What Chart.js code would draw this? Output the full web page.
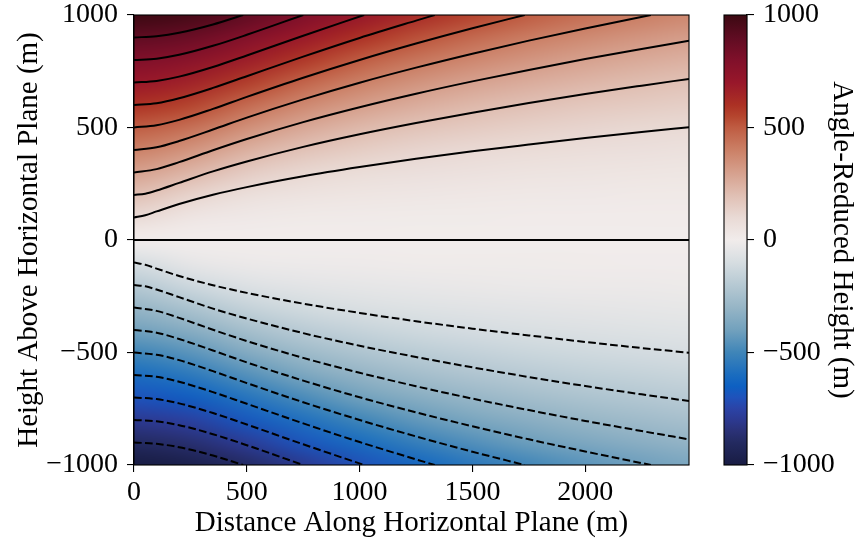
<!DOCTYPE html>
<html>
<head>
<meta charset="utf-8">
<script src="https://cdn.jsdelivr.net/npm/chart.js@4.4.0/dist/chart.umd.min.js"></script>
<style>
  html, body { margin: 0; padding: 0; background: #fff; }
  #wrap { position: relative; width: 859px; height: 542px; }
  #wrap canvas { position: absolute; left: 0; top: 0; }
</style>
</head>
<body>
<div id="wrap">
  <canvas id="main" width="859" height="542"></canvas>
  <canvas id="cbar" width="859" height="542"></canvas>
</div>
<script>
// axis extents and ticks
const xMax = 2460;
const xTicks = [0, 500, 1000, 1500, 2000];
const yTicks = [-1000, -500, 0, 500, 1000];

// shading grid (rows top to bottom)
const gridX = [0, 250, 500, 750, 1000, 1250, 1500, 1750, 2000, 2250, 2500];
const gridY = [1000, 900, 800, 700, 600, 500, 400, 300, 200, 100, 0,
  -100, -200, -300, -400, -500, -600, -700, -800, -900, -1000];
const heatGrid = [
  [1000, 970, 894, 800, 707, 625, 555, 496, 447, 406, 371],
  [900, 867, 787, 691, 602, 526, 463, 412, 369, 334, 305],
  [800, 764, 678, 584, 500, 431, 377, 333, 297, 268, 244],
  [700, 659, 570, 478, 401, 342, 296, 260, 231, 208, 189],
  [600, 554, 461, 375, 309, 260, 223, 195, 172, 155, 140],
  [500, 447, 354, 277, 224, 186, 158, 137, 121, 109, 98],
  [400, 339, 250, 188, 149, 122, 103, 89, 78, 70, 63],
  [300, 231, 154, 111, 86, 70, 59, 51, 45, 40, 36],
  [200, 125, 74, 52, 39, 32, 26, 23, 20, 18, 16],
  [100, 37, 20, 13, 10, 8, 7, 6, 5, 4, 4],
  [0, 0, 0, 0, 0, 0, 0, 0, 0, 0, 0],
  [-100, -37, -20, -13, -10, -8, -7, -6, -5, -4, -4],
  [-200, -125, -74, -52, -39, -32, -26, -23, -20, -18, -16],
  [-300, -231, -154, -111, -86, -70, -59, -51, -45, -40, -36],
  [-400, -339, -250, -188, -149, -122, -103, -89, -78, -70, -63],
  [-500, -447, -354, -277, -224, -186, -158, -137, -121, -109, -98],
  [-600, -554, -461, -375, -309, -260, -223, -195, -172, -155, -140],
  [-700, -659, -570, -478, -401, -342, -296, -260, -231, -208, -189],
  [-800, -764, -678, -584, -500, -431, -377, -333, -297, -268, -244],
  [-900, -867, -787, -691, -602, -526, -463, -412, -369, -334, -305],
  [-1000, -970, -894, -800, -707, -625, -555, -496, -447, -406, -371],
];

// contour lines [x, y]
const c900 = [[0, 900], [100, 906], [200, 921], [350, 958], [484, 1000]];
const c800 = [[0, 800], [100, 806], [200, 823], [350, 863], [500, 912], [750, 1000]];
const c700 = [[0, 700], [100, 707], [200, 726], [350, 769], [500, 820], [750, 908], [1020, 1000]];
const c600 = [[0, 600], [100, 608], [200, 630], [350, 676], [500, 728], [750, 815], [1000, 898], [1250, 975], [1333, 1000]];
const c500 = [[0, 500], [100, 510], [200, 534], [350, 583], [500, 636], [750, 721], [1000, 800], [1250, 873], [1500, 941], [1732, 1000]];
const c400 = [[0, 400], [100, 412], [200, 440], [350, 491], [500, 544], [750, 625], [1000, 699], [1250, 766], [1500, 828], [1750, 886], [2000, 940], [2291, 1000]];
const c300 = [[0, 300], [100, 315], [200, 346], [350, 399], [500, 449], [750, 524], [1000, 590], [1250, 650], [1500, 705], [1750, 756], [2000, 804], [2250, 849], [2460, 886]];
const c200 = [[0, 200], [50, 206], [100, 220], [200, 254], [350, 305], [500, 349], [750, 414], [1000, 470], [1250, 520], [1500, 566], [1750, 609], [2000, 649], [2250, 686], [2460, 716]];
const c100 = [[0, 100], [50, 110], [100, 127], [200, 160], [350, 201], [500, 235], [750, 283], [1000, 324], [1250, 361], [1500, 394], [1750, 424], [2000, 453], [2250, 480], [2460, 501]];
const c0 = [[0, 0], [2460, 0]];
const cm100 = [[0, -100], [50, -110], [100, -127], [200, -160], [350, -201], [500, -235], [750, -283], [1000, -324], [1250, -361], [1500, -394], [1750, -424], [2000, -453], [2250, -480], [2460, -501]];
const cm200 = [[0, -200], [50, -206], [100, -220], [200, -254], [350, -305], [500, -349], [750, -414], [1000, -470], [1250, -520], [1500, -566], [1750, -609], [2000, -649], [2250, -686], [2460, -716]];
const cm300 = [[0, -300], [100, -315], [200, -346], [350, -399], [500, -449], [750, -524], [1000, -590], [1250, -650], [1500, -705], [1750, -756], [2000, -804], [2250, -849], [2460, -886]];
const cm400 = [[0, -400], [100, -412], [200, -440], [350, -491], [500, -544], [750, -625], [1000, -699], [1250, -766], [1500, -828], [1750, -886], [2000, -940], [2291, -1000]];
const cm500 = [[0, -500], [100, -510], [200, -534], [350, -583], [500, -636], [750, -721], [1000, -800], [1250, -873], [1500, -941], [1732, -1000]];
const cm600 = [[0, -600], [100, -608], [200, -630], [350, -676], [500, -728], [750, -815], [1000, -898], [1250, -975], [1333, -1000]];
const cm700 = [[0, -700], [100, -707], [200, -726], [350, -769], [500, -820], [750, -908], [1020, -1000]];
const cm800 = [[0, -800], [100, -806], [200, -823], [350, -863], [500, -912], [750, -1000]];
const cm900 = [[0, -900], [100, -906], [200, -921], [350, -958], [484, -1000]];

// colour scale
const cmapStops = [-1000, -900, -850, -800, -750, -700, -650, -600, -500, -400, -300, -200, -100, 0,
  100, 200, 300, 400, 500, 550, 600, 700, 800, 900, 1000];
const cmapColors = ['#181c43', '#232a60', '#2a3176', '#2c3990', '#2b43a6', '#1f52bb', '#0d60c2', '#1a6cbf',
  '#3f85b8', '#72a1bd', '#96b5c6', '#b6c9d3', '#d6dde1', '#f1eceb',
  '#e9dad5', '#e0bfb3', '#d6a08d', '#cb8066', '#bf5c42', '#b5452e', '#ac3124', '#98172a', '#80102a', '#5f0c22', '#3c0912'];

const FONT = "'Liberation Serif', 'Times New Roman', serif";
const font = { family: FONT, size: 28, lineHeight: 1.2 };
const titleFont = { family: FONT, size: 29, lineHeight: 1.2 };
const minus = v => (v < 0 ? '\u2212' + Math.abs(v) : String(v));

const hexRgb = h => [1, 3, 5].map(i => parseInt(h.slice(i, i + 2), 16));
const cmapRgb = cmapColors.map(hexRgb);
const colourFor = (v) => {
  if (v <= cmapStops[0]) return cmapRgb[0];
  for (let i = 1; i < cmapStops.length; i++) {
    if (v <= cmapStops[i]) {
      const t = (v - cmapStops[i - 1]) / (cmapStops[i] - cmapStops[i - 1]);
      return cmapRgb[i].map((c, k) => cmapRgb[i - 1][k] + (c - cmapRgb[i - 1][k]) * t);
    }
  }
  return cmapRgb[cmapRgb.length - 1];
};

const heatmapPlugin = {
  id: 'heatmap',
  beforeDatasetsDraw(chart) {
    const { ctx, chartArea, scales: { x, y } } = chart;
    const cols = gridX.length;
    const rows = gridY.length;
    const off = document.createElement('canvas');
    off.width = cols;
    off.height = rows;
    const octx = off.getContext('2d');
    const img = octx.createImageData(cols, rows);
    heatGrid.forEach((row, r) => row.forEach((v, c) => {
      const [R, G, B] = colourFor(v);
      const p = (r * cols + c) * 4;
      img.data[p] = R; img.data[p + 1] = G; img.data[p + 2] = B; img.data[p + 3] = 255;
    }));
    octx.putImageData(img, 0, 0);
    const dx = gridX[1] - gridX[0];
    const dy = gridY[0] - gridY[1];
    const left = x.getPixelForValue(gridX[0] - dx / 2);
    const right = x.getPixelForValue(gridX[cols - 1] + dx / 2);
    const top = y.getPixelForValue(gridY[0] + dy / 2);
    const bottom = y.getPixelForValue(gridY[rows - 1] - dy / 2);
    ctx.save();
    ctx.beginPath();
    ctx.rect(chartArea.left, chartArea.top, chartArea.right - chartArea.left, chartArea.bottom - chartArea.top);
    ctx.clip();
    ctx.imageSmoothingEnabled = true;
    ctx.imageSmoothingQuality = 'high';
    ctx.drawImage(off, left, top, right - left, bottom - top);
    ctx.restore();
  },
};

const framePlugin = {
  id: 'frame',
  afterDraw(chart) {
    const { ctx, chartArea: a } = chart;
    ctx.save();
    ctx.strokeStyle = '#000';
    ctx.lineWidth = 1.1;
    ctx.strokeRect(a.left, a.top, a.right - a.left, a.bottom - a.top);
    ctx.restore();
  },
};

const colorbarPlugin = {
  id: 'colorbar',
  beforeDatasetsDraw(chart) {
    const { ctx, chartArea: a, scales: { y } } = chart;
    const top = y.getPixelForValue(cmapStops[cmapStops.length - 1]);
    const bottom = y.getPixelForValue(cmapStops[0]);
    const g = ctx.createLinearGradient(0, bottom, 0, top);
    cmapStops.forEach((v, i) => {
      g.addColorStop((bottom - y.getPixelForValue(v)) / (bottom - top), cmapColors[i]);
    });
    ctx.save();
    ctx.fillStyle = g;
    ctx.fillRect(a.left, top, a.right - a.left, bottom - top);
    ctx.restore();
  },
};

const levels = [
  [c900, 900], [c800, 800], [c700, 700], [c600, 600], [c500, 500], [c400, 400], [c300, 300], [c200, 200], [c100, 100],
  [c0, 0],
  [cm100, -100], [cm200, -200], [cm300, -300], [cm400, -400], [cm500, -500], [cm600, -600], [cm700, -700], [cm800, -800], [cm900, -900],
];

const datasets = levels.map(([pts, level]) => ({
  label: String(level),
  data: pts.map(([px, py]) => ({ x: px, y: py })),
  borderColor: '#000',
  borderWidth: 2,
  borderDash: level < 0 ? [7.7, 3.3] : [],
  pointRadius: 0,
  cubicInterpolationMode: 'monotone',
  fill: false,
}));

const axisCommon = {
  border: { display: true, color: '#000', width: 1.1 },
  grid: { display: true, drawOnChartArea: false, drawTicks: true, tickLength: 7, color: '#000', lineWidth: 1.1 },
};

// keep the plot box where the reference has it
const noPad = (s) => { s.paddingTop = 0; s.paddingBottom = 0; s.paddingLeft = 0; s.paddingRight = 0; };

new Chart(document.getElementById('main'), {
  type: 'line',
  data: { datasets },
  options: {
    responsive: false,
    animation: false,
    events: [],
    layout: { padding: { top: 15, right: 170, left: 0, bottom: 0 } },
    plugins: { legend: { display: false }, tooltip: { enabled: false } },
    scales: {
      x: {
        type: 'linear', min: 0, max: xMax,
        ...axisCommon,
        afterBuildTicks: (s) => { s.ticks = xTicks.map(v => ({ value: v })); },
        ticks: { font, color: '#000', padding: 4, maxRotation: 0, callback: minus },
        title: { display: true, text: 'Distance Along Horizontal Plane (m)', font: titleFont, color: '#000', padding: { top: 0, bottom: 1 } },
        afterFit: (s) => { s.height = 77; noPad(s); },
      },
      y: {
        type: 'linear', min: -1000, max: 1000,
        ...axisCommon,
        afterBuildTicks: (s) => { s.ticks = yTicks.map(v => ({ value: v })); },
        ticks: { font, color: '#000', padding: 9, callback: minus },
        title: { display: true, text: 'Height Above Horizontal Plane (m)', font: titleFont, color: '#000', padding: { top: 12, bottom: 0 } },
        afterFit: (s) => { s.width = 134; noPad(s); },
      },
    },
  },
  plugins: [heatmapPlugin, framePlugin],
});

new Chart(document.getElementById('cbar'), {
  type: 'line',
  data: { datasets: [] },
  options: {
    responsive: false,
    animation: false,
    events: [],
    layout: { padding: { top: 15, right: 0, left: 724, bottom: 77 } },
    plugins: { legend: { display: false }, tooltip: { enabled: false } },
    scales: {
      x: { display: false },
      y: {
        type: 'linear', position: 'right', min: -1000, max: 1000,
        ...axisCommon,
        afterBuildTicks: (s) => { s.ticks = yTicks.map(v => ({ value: v })); },
        ticks: { font, color: '#000', padding: 9, callback: minus },
        title: { display: true, text: 'Angle-Reduced Height (m)', font: titleFont, color: '#000', padding: { top: 0, bottom: 0 } },
        afterFit: (s) => { s.width = 112; noPad(s); },
      },
    },
  },
  plugins: [colorbarPlugin, framePlugin],
});
</script>
</body>
</html>
